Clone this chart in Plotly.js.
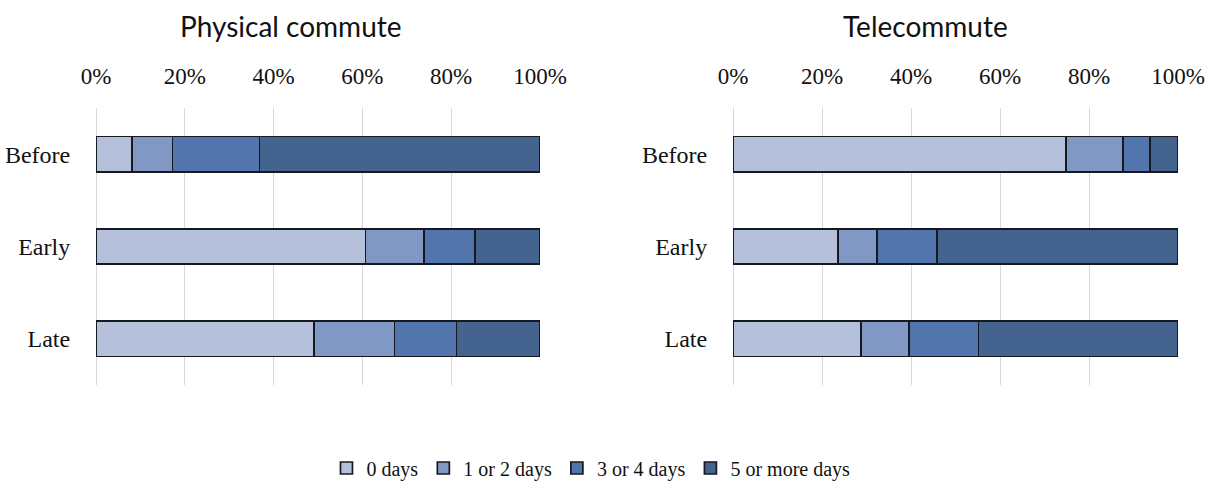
<!DOCTYPE html>
<html>
<head>
<meta charset="utf-8">
<script src="https://cdn.plot.ly/plotly-3.0.1.min.js"></script>
<style>html,body{margin:0;padding:0;background:#fff;}#chart{width:1211px;height:503px;}</style>
</head>
<body>
<div id="chart"></div>
<script>
const periods = ["Before", "Early", "Late"];
const seriesNames = ["0 days", "1 or 2 days", "3 or 4 days", "5 or more days"];
const seriesColors = ["#b5c1da", "#8298c4", "#5275ae", "#45638f"];

// Physical commute (% of respondents)
const physical0 = [8.1, 60.7, 49.1];
const physical12 = [9.1, 13.1, 18.1];
const physical34 = [19.6, 11.5, 14.0];
const physical5 = [63.2, 14.7, 18.8];

// Telecommute (% of respondents)
const tele0 = [74.9, 23.6, 28.8];
const tele12 = [12.7, 8.7, 10.7];
const tele34 = [6.1, 13.5, 15.7];
const tele5 = [6.3, 54.2, 44.8];

const physicalSeries = [physical0, physical12, physical34, physical5];
const teleSeries = [tele0, tele12, tele34, tele5];

const traces = [];
physicalSeries.forEach((vals, i) => {
  traces.push({
    type: "bar", orientation: "h", x: vals, y: periods,
    name: seriesNames[i], legendgroup: seriesNames[i], showlegend: true,
    xaxis: "x", yaxis: "y",
    marker: {color: seriesColors[i], line: {color: "#161822", width: 1.7}},
    hoverinfo: "x+name"
  });
});
teleSeries.forEach((vals, i) => {
  traces.push({
    type: "bar", orientation: "h", x: vals, y: periods,
    name: seriesNames[i], legendgroup: seriesNames[i], showlegend: false,
    xaxis: "x2", yaxis: "y2",
    marker: {color: seriesColors[i], line: {color: "#161822", width: 1.7}},
    hoverinfo: "x+name"
  });
});

const serif = "Liberation Serif, Times New Roman, serif";
const xCommon = {
  range: [0, 100], dtick: 20, tick0: 0, ticksuffix: "%", side: "top",
  showgrid: true, gridcolor: "#d9d9d9", gridwidth: 1,
  zeroline: true, zerolinecolor: "#d9d9d9", zerolinewidth: 1,
  showline: false, ticks: "outside", ticklen: 14, tickcolor: "rgba(0,0,0,0)",
  tickfont: {family: serif, size: 23, color: "#111"}, fixedrange: true
};
const yCommon = {
  type: "category", autorange: "reversed", showgrid: false, zeroline: false,
  showline: false, ticks: "outside", ticklen: 20, tickcolor: "rgba(0,0,0,0)",
  tickfont: {family: serif, size: 24, color: "#111"}, fixedrange: true
};

const layout = {
  width: 1211, height: 503,
  margin: {l: 0, r: 0, t: 0, b: 0},
  paper_bgcolor: "#fff", plot_bgcolor: "#fff",
  barmode: "stack", bargap: 0.62,
  showlegend: true,
  xaxis: Object.assign({}, xCommon, {domain: [96/1211, 540/1211], anchor: "y"}),
  xaxis2: Object.assign({}, xCommon, {domain: [733/1211, 1178/1211], anchor: "y2"}),
  yaxis: Object.assign({}, yCommon, {domain: [118/503, 395/503], anchor: "x"}),
  yaxis2: Object.assign({}, yCommon, {domain: [118/503, 395/503], anchor: "x2"}),
  legend: {
    orientation: "h", x: 0.488, xanchor: "center", y: 35/503, yanchor: "middle",
    font: {family: serif, size: 20, color: "#111"}, itemwidth: 30,
    traceorder: "normal", bgcolor: "rgba(0,0,0,0)"
  },
  annotations: [
    {text: "Physical commute", xref: "paper", yref: "paper", x: 291/1211, y: 1 - 26/503,
     xanchor: "center", yanchor: "middle", showarrow: false,
     font: {family: "Lato, Open Sans, sans-serif", size: 28, color: "#111"}},
    {text: "Telecommute", xref: "paper", yref: "paper", x: 925/1211, y: 1 - 26/503,
     xanchor: "center", yanchor: "middle", showarrow: false,
     font: {family: "Lato, Open Sans, sans-serif", size: 28, color: "#111"}}
  ]
};

Plotly.newPlot("chart", traces, layout, {displayModeBar: false, staticPlot: true});
</script>
</body>
</html>
